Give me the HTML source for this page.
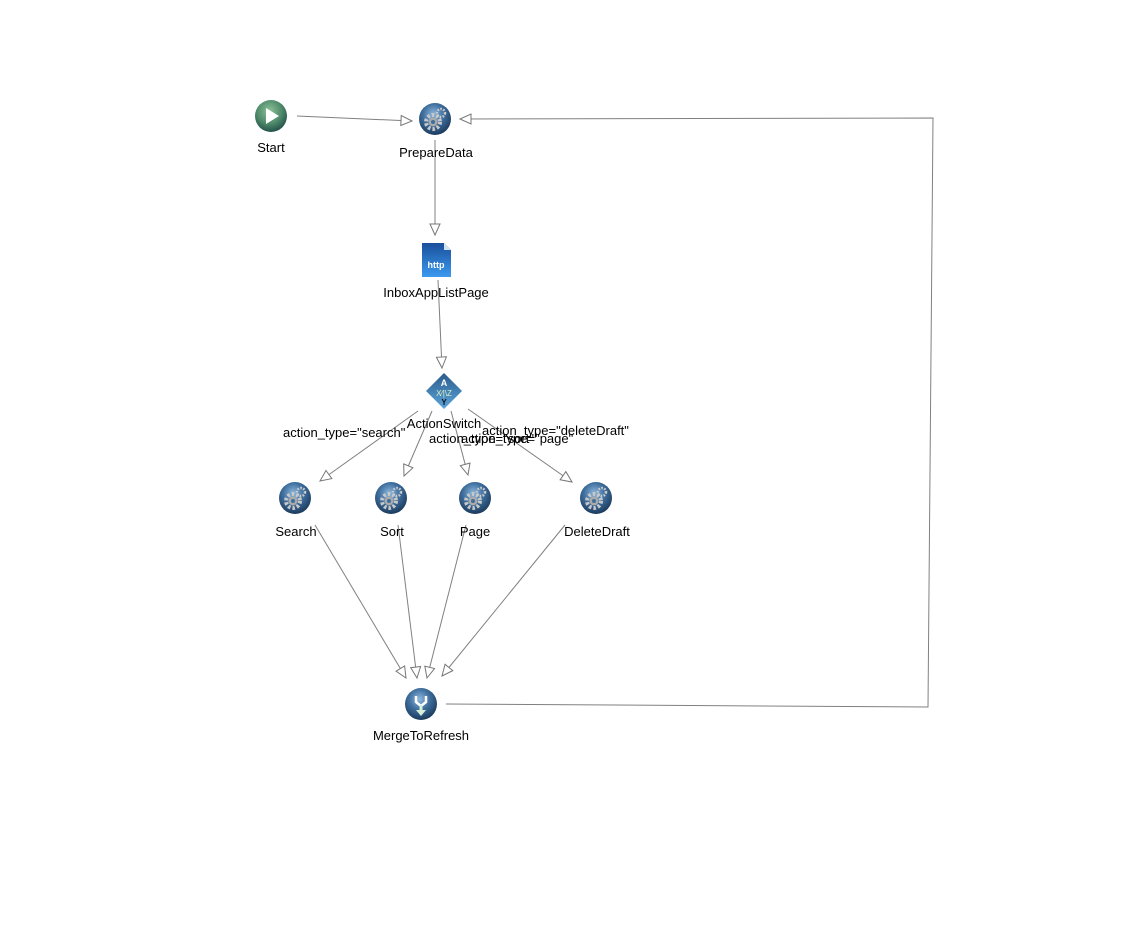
<!DOCTYPE html>
<html><head><meta charset="utf-8"><style>
html,body{margin:0;padding:0;background:#fff;width:1143px;height:930px;overflow:hidden}
svg{display:block}
text{font-family:"Liberation Sans","DejaVu Sans",sans-serif;font-size:13px;fill:#000}
</style></head><body>
<svg width="1143" height="930" viewBox="0 0 1143 930">
<defs>
<radialGradient id="bl" cx="45%" cy="35%" r="65%"><stop offset="0" stop-color="#8fb8de"/><stop offset="0.5" stop-color="#3f6f9e"/><stop offset="1" stop-color="#1c3a5c"/></radialGradient>
<radialGradient id="gr" cx="45%" cy="35%" r="65%"><stop offset="0" stop-color="#8fc29a"/><stop offset="0.6" stop-color="#4e8a6a"/><stop offset="1" stop-color="#24524a"/></radialGradient>
<linearGradient id="ht" x1="0" y1="0" x2="0" y2="1"><stop offset="0" stop-color="#1a4f9a"/><stop offset="1" stop-color="#3b9af0"/></linearGradient>
<linearGradient id="dm" x1="0" y1="0" x2="0" y2="1"><stop offset="0" stop-color="#2c5b8c"/><stop offset="1" stop-color="#5aa6dc"/></linearGradient>
<g id="gear">
<circle r="16" fill="url(#bl)"/>
<circle cx="-2" cy="3" r="7" fill="none" stroke="#c8c8c8" stroke-width="4" stroke-dasharray="2.5 2"/>
<circle cx="-2" cy="3" r="4.5" fill="#aaa"/><circle cx="-2" cy="3" r="2" fill="#3f6f9e"/>
<circle cx="6" cy="-6" r="4" fill="none" stroke="#ccc" stroke-width="2.5" stroke-dasharray="1.6 1.4"/>
</g>
<g id="ar"><path d="M0 0 L-11 -5 L-11 5 Z" fill="#fff" stroke="#777" stroke-width="1"/></g>
</defs>
<g stroke="#808080" stroke-width="1" fill="none">
<polyline points="297,116 412,121"/>
<polyline points="446,704 928,707 933,118 460,119"/>
<line x1="435" y1="140" x2="435" y2="235"/>
<line x1="438" y1="280" x2="442" y2="368"/>
<line x1="418" y1="411" x2="320" y2="481"/>
<line x1="432" y1="411" x2="404" y2="476"/>
<line x1="451" y1="411" x2="468" y2="475"/>
<line x1="468" y1="409" x2="572" y2="482"/>
<line x1="315" y1="525" x2="406" y2="678"/>
<line x1="398" y1="525" x2="417" y2="678"/>
<line x1="466" y1="525" x2="427" y2="678"/>
<line x1="565" y1="525" x2="442" y2="676"/>
</g>
<use href="#ar" transform="translate(412,121) rotate(2.5)"/>
<use href="#ar" transform="translate(460,119) rotate(180)"/>
<use href="#ar" transform="translate(435,235) rotate(90)"/>
<use href="#ar" transform="translate(442,368) rotate(87)"/>
<use href="#ar" transform="translate(320,481) rotate(144)"/>
<use href="#ar" transform="translate(404,476) rotate(113)"/>
<use href="#ar" transform="translate(468,475) rotate(75)"/>
<use href="#ar" transform="translate(572,482) rotate(35)"/>
<use href="#ar" transform="translate(406,678) rotate(59)"/>
<use href="#ar" transform="translate(417,678) rotate(83)"/>
<use href="#ar" transform="translate(427,678) rotate(104)"/>
<use href="#ar" transform="translate(442,676) rotate(129)"/>
<circle cx="271" cy="116" r="16" fill="url(#gr)"/>
<path d="M266 108 L279 116 L266 124 Z" fill="#fff"/>
<text x="271" y="152" text-anchor="middle">Start</text>
<use href="#gear" x="435" y="119"/>
<text x="436" y="157" text-anchor="middle">PrepareData</text>
<path d="M422 243 L444 243 L451 250 L451 277 L422 277 Z" fill="url(#ht)"/>
<path d="M444 243 L444 250 L451 250 Z" fill="#cfe3f5"/>
<text x="436" y="268" text-anchor="middle" style="font-size:9px;font-weight:bold;fill:#fff">http</text>
<text x="436" y="297" text-anchor="middle">InboxAppListPage</text>
<path d="M444 373 L462 391 L444 409 L426 391 Z" fill="url(#dm)"/>
<text x="444" y="386" text-anchor="middle" style="font-size:9px;font-weight:bold;fill:#fff">A</text>
<text x="444" y="396" text-anchor="middle" style="font-size:8px;fill:#e0f0c0">X⁄|\Z</text>
<text x="444" y="405" text-anchor="middle" style="font-size:8px;font-weight:bold;fill:#111">Y</text>
<text x="444" y="428" text-anchor="middle">ActionSwitch</text>
<text x="283" y="437">action_type="search"</text>
<text x="482" y="435">action_type="deleteDraft"</text>
<text x="429" y="443">action_type="sort"</text>
<text x="461" y="443">action_type="page"</text>
<use href="#gear" x="295" y="498"/>
<use href="#gear" x="391" y="498"/>
<use href="#gear" x="475" y="498"/>
<use href="#gear" x="596" y="498"/>
<text x="296" y="536" text-anchor="middle">Search</text>
<text x="392" y="536" text-anchor="middle">Sort</text>
<text x="475" y="536" text-anchor="middle">Page</text>
<text x="597" y="536" text-anchor="middle">DeleteDraft</text>
<circle cx="421" cy="704" r="16" fill="url(#bl)"/>
<path d="M416 696 L416 702 L421 706 L426 702 L426 696" fill="none" stroke="#fff" stroke-width="2.5"/>
<path d="M421 705 L421 711" stroke="#d8f0d8" stroke-width="3"/>
<path d="M416 710 L426 710 L421 716 Z" fill="#d8f0d8"/>
<text x="421" y="740" text-anchor="middle">MergeToRefresh</text>
</svg>
</body></html>
